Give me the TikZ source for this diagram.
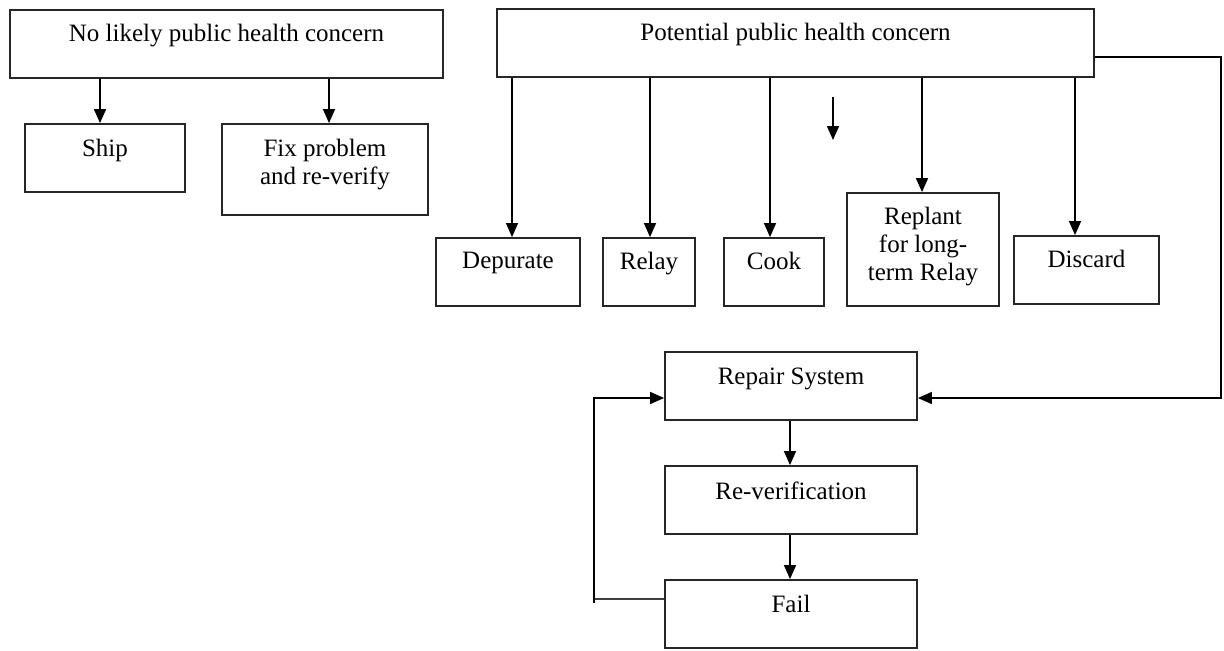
\documentclass[tikz,border=0pt]{standalone}
\usepackage{fontspec}
\setmainfont{Liberation Serif}
\usetikzlibrary{arrows.meta}
\begin{document}
\begin{tikzpicture}[x=0.5pt,y=-0.5pt,
  box/.style={draw=black!85,line width=0.9pt,rectangle,inner sep=0pt,minimum height=34pt},
  txt/.style={inner sep=0pt,anchor=north,align=center,font=\fontsize{12.5pt}{14pt}\selectfont},
  arr/.style={line width=0.75pt,-{Triangle[length=7pt,width=6pt]}},
  ln/.style={line width=0.75pt}]
\useasboundingbox (0,0) rectangle (1224,650);
% boxes
\node[box,minimum width=216.5pt] (A) at (226.5,44) {};
\node[box,minimum width=80pt] (ship) at (105,158) {};
\node[box,minimum width=103pt,minimum height=45.5pt] (fix) at (325,169.5) {};
\node[box,minimum width=298.5pt] (B) at (795.5,43) {};
\node[box,minimum width=72pt] (dep) at (508,272) {};
\node[box,minimum width=46pt] (relay) at (649,272) {};
\node[box,minimum width=50pt] (cook) at (774,272) {};
\node[box,minimum width=76pt,minimum height=56.5pt] (repl) at (923,249.5) {};
\node[box,minimum width=72.5pt] (disc) at (1086.5,270) {};
\node[box,minimum width=126pt] (rep) at (791,386) {};
\node[box,minimum width=126pt] (rever) at (791,500) {};
\node[box,minimum width=126pt] (fail) at (791,614) {};
% texts
\node[txt] (tA) at ([yshift=-7.5pt]A.north) {No likely public health concern};
\node[txt] (tship) at ([yshift=-8pt]ship.north) {Ship};
\node[txt] (tfix) at ([yshift=-8pt]fix.north) {Fix problem\\and re-verify};
\node[txt] (tB) at ([yshift=-7.5pt]B.north) {Potential public health concern};
\node[txt] (tdep) at ([yshift=-7.5pt]dep.north) {Depurate};
\node[txt] (trelay) at ([yshift=-7.5pt]relay.north) {Relay};
\node[txt] (tcook) at ([yshift=-7.5pt]cook.north) {Cook};
\node[txt] (trepl) at ([yshift=-7.5pt]repl.north) {Replant\\for long-\\term Relay};
\node[txt] (tdisc) at ([yshift=-7.5pt]disc.north) {Discard};
\node[txt] (trep) at ([yshift=-8pt]rep.north) {Repair System};
\node[txt] (trever) at ([yshift=-8pt]rever.north) {Re-verification};
\node[txt] (tfail) at ([yshift=-8pt]fail.north) {Fail};
% connectors
\draw[arr] (A.south -| 100,0) -- (100,0 |- ship.north);
\draw[arr] (A.south -| 329,0) -- (329,0 |- fix.north);
\draw[arr] (B.south -| 512,0) -- (512,0 |- dep.north);
\draw[arr] (B.south -| 650,0) -- (650,0 |- relay.north);
\draw[arr] (B.south -| 770,0) -- (770,0 |- cook.north);
\draw[arr] (B.south -| 922,0) -- (922,0 |- repl.north);
\draw[arr] (B.south -| 1075,0) -- (1075,0 |- disc.north);
\coordinate (s1) at (833,97);
\coordinate (s2) at (833,140);
\draw[arr] (s1) -- (s2);
\coordinate (r1) at (1221,57);
\coordinate (r2) at (1221,398);
\draw[arr] (B.east |- r1) -- (r1) -- (r2) -- (rep.east |- r2);
\coordinate (f1) at (594,599);
\coordinate (f2) at (594,398);
\draw[ln,black!75] (fail.west |- f1) -- (f1);
\draw[arr] (594,603) -- (f2) -- (rep.west |- f2);
\draw[arr] (rep.south -| 790,0) -- (790,0 |- rever.north);
\draw[arr] (rever.south -| 790,0) -- (790,0 |- fail.north);
\end{tikzpicture}
\end{document}
